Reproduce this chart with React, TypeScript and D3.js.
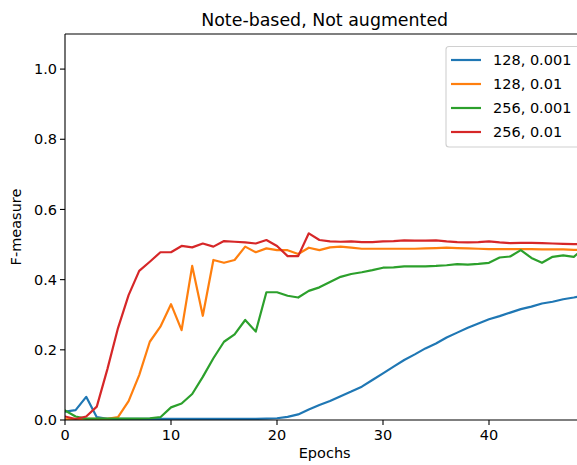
import React from "react";
import * as d3 from "d3";

const epochs = d3.range(0, 50);
const seriesNames = ["128, 0.001", "128, 0.01", "256, 0.001", "256, 0.01"];
const colors = ["#1f77b4", "#ff7f0e", "#2ca02c", "#d62728"];

const blue = [0.024, 0.028, 0.066, 0.008, 0.003, 0.003, 0.003, 0.003, 0.003, 0.003,
  0.003, 0.003, 0.003, 0.003, 0.003, 0.003, 0.003, 0.003, 0.003, 0.004,
  0.005, 0.009, 0.016, 0.03, 0.043, 0.054, 0.068, 0.081, 0.095, 0.114,
  0.133, 0.152, 0.171, 0.187, 0.204, 0.218, 0.235, 0.249, 0.263, 0.275,
  0.287, 0.296, 0.306, 0.316, 0.323, 0.332, 0.337, 0.344, 0.349, 0.355];
const orange = [0.002, 0.003, 0.003, 0.003, 0.003, 0.008, 0.054, 0.128, 0.223, 0.266,
  0.33, 0.256, 0.439, 0.297, 0.456, 0.448, 0.456, 0.494, 0.478, 0.489,
  0.484, 0.484, 0.473, 0.491, 0.484, 0.492, 0.494, 0.491, 0.488, 0.488,
  0.488, 0.488, 0.488, 0.488, 0.489, 0.49, 0.491, 0.49, 0.489, 0.488,
  0.487, 0.487, 0.487, 0.487, 0.487, 0.486, 0.486, 0.486, 0.485, 0.485];
const green = [0.027, 0.01, 0.004, 0.004, 0.004, 0.004, 0.004, 0.004, 0.005, 0.008,
  0.036, 0.047, 0.074, 0.123, 0.176, 0.223, 0.244, 0.285, 0.252, 0.364,
  0.364, 0.354, 0.349, 0.368, 0.378, 0.393, 0.408, 0.416, 0.421, 0.427,
  0.434, 0.435, 0.438, 0.438, 0.438, 0.439, 0.441, 0.444, 0.443, 0.445,
  0.448, 0.463, 0.466, 0.484, 0.462, 0.448, 0.465, 0.469, 0.465, 0.49];
const red = [0.01, 0.003, 0.01, 0.038, 0.145, 0.262, 0.356, 0.425, 0.451, 0.478,
  0.478, 0.496, 0.492, 0.503, 0.494, 0.51, 0.508, 0.506, 0.503, 0.513,
  0.496, 0.467, 0.467, 0.532, 0.513, 0.509, 0.508, 0.509, 0.507, 0.507,
  0.509, 0.51, 0.512, 0.511, 0.511, 0.512, 0.509, 0.507, 0.506, 0.507,
  0.509, 0.506, 0.504, 0.505, 0.505, 0.504, 0.503, 0.502, 0.501, 0.501];

const xTicks = [0, 10, 20, 30, 40];
const yTicks = [0.0, 0.2, 0.4, 0.6, 0.8, 1.0];

const W = 577, H = 465;
const left = 65, right = 584.4, top = 34, bottom = 420;
const font = "DejaVu Sans, sans-serif";

export default function App() {
  const x = d3.scaleLinear().domain([0, 49]).range([left, right]);
  const y = d3.scaleLinear().domain([0, 1.1]).range([bottom, top]);
  const data = [blue, orange, green, red];
  const line = d3.line<number>().x((_, i) => x(epochs[i])).y((v) => y(v));

  return (
    <svg width={W} height={H} style={{ position: "absolute", left: 0, top: 0, background: "#fff" }}>
      <rect x={0} y={0} width={W} height={H} fill="#fff" />
      <defs>
        <clipPath id="plot">
          <rect x={left} y={top} width={right - left} height={bottom - top} />
        </clipPath>
      </defs>
      <g clipPath="url(#plot)">
        {data.map((d, i) => (
          <path key={i} d={line(d) || ""} fill="none" stroke={colors[i]} strokeWidth={2.2} strokeLinejoin="round" strokeLinecap="square" />
        ))}
      </g>
      <line x1={left} x2={left} y1={top} y2={bottom} stroke="#000" strokeWidth={1.1} />
      <line x1={left} x2={right} y1={bottom} y2={bottom} stroke="#000" strokeWidth={1.1} />
      <line x1={left} x2={right} y1={top} y2={top} stroke="#000" strokeWidth={1.1} />
      <line x1={right} x2={right} y1={top} y2={bottom} stroke="#000" strokeWidth={1.1} />
      {xTicks.map((t) => (
        <g key={t}>
          <line x1={x(t)} x2={x(t)} y1={bottom} y2={bottom + 5} stroke="#000" strokeWidth={1.1} />
          <text x={x(t)} y={bottom + 20} textAnchor="middle" fontFamily={font} fontSize={14.5} fill="#000">{t}</text>
        </g>
      ))}
      {yTicks.map((t) => (
        <g key={t}>
          <line x1={left - 5} x2={left} y1={y(t)} y2={y(t)} stroke="#000" strokeWidth={1.1} />
          <text x={left - 8} y={y(t)} dy="0.35em" textAnchor="end" fontFamily={font} fontSize={14.5} fill="#000">{t.toFixed(1)}</text>
        </g>
      ))}
      <text x={(left + right) / 2} y={458} textAnchor="middle" fontFamily={font} fontSize={14.5} fill="#000">Epochs</text>
      <text transform={`translate(21,${(top + bottom) / 2}) rotate(-90)`} textAnchor="middle" fontFamily={font} fontSize={14.5} fill="#000">F-measure</text>
      <text x={(left + right) / 2} y={26} textAnchor="middle" fontFamily={font} fontSize={17.4} fill="#000">Note-based, Not augmented</text>
      <rect x={446} y={46.5} width={150} height={100.5} rx={3} fill="#fff" fillOpacity={0.8} stroke="#d0d0d0" strokeWidth={1.1} />
      {seriesNames.map((n, i) => (
        <g key={n}>
          <line x1={451} x2={481} y1={60 + i * 24} y2={60 + i * 24} stroke={colors[i]} strokeWidth={2.2} />
          <text x={493} y={60 + i * 24} dy="0.35em" fontFamily={font} fontSize={14.5} fill="#000">{n}</text>
        </g>
      ))}
    </svg>
  );
}
